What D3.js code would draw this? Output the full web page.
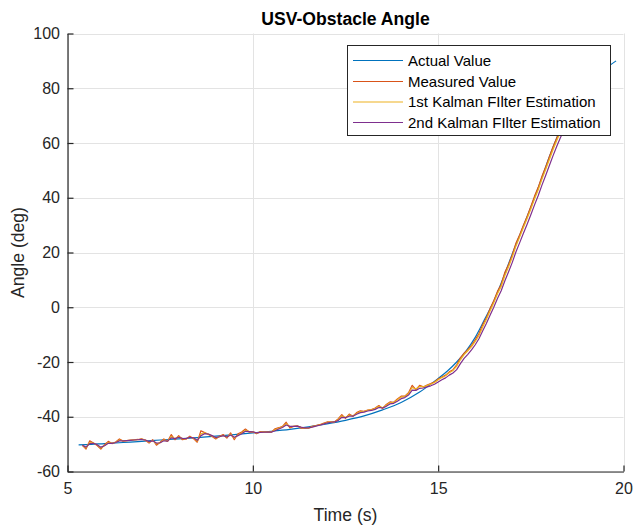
<!DOCTYPE html>
<html>
<head>
<meta charset="utf-8">
<script src="https://cdn.jsdelivr.net/npm/d3@7"></script>
<style>
  html, body { margin: 0; padding: 0; background: #fff; }
  svg { display: block; font-family: "Liberation Sans", Arial, Helvetica, sans-serif; }
</style>
</head>
<body>
<svg id="chart" width="635" height="529"></svg>
<script>
// Reference trajectory of the bearing angle (time, deg)
const actualTime = [5.3, 5.5, 6, 6.5, 7, 7.5, 8, 8.5, 9, 9.5, 10, 10.5, 11, 11.5, 12, 12.5, 13, 13.5, 14, 14.5,
  15, 15.25, 15.5, 15.75, 16, 16.25, 16.5, 16.75, 17, 17.25, 17.5, 17.75, 18, 18.25, 18.5, 18.75, 19, 19.25, 19.5, 19.8];
const actualValue = [-50.3, -50.2, -49.8, -49.4, -49.0, -48.5, -48.1, -47.6, -47.1, -46.5, -45.9, -45.3, -44.6, -43.7, -42.6, -41.3, -39.7, -37.5, -34.8, -31.0,
  -26.0, -23.3, -20.0, -16.0, -11.0, -4.5, 2.2, 10.5, 19.5, 28.0, 36.5, 45.5, 55.0, 63.5, 70.5, 76.0, 80.5, 84.0, 87.0, 90.0];

// Sensor samples every 0.1 s, from 5.4 s to 18.8 s
const sampleStart = 5.4;
const sampleStep = 0.1;
const measuredValue = [
  -50.4, -51.8, -48.8, -49.6, -50.5, -51.8, -50.2, -49.0, -49.8, -49.2,
  -48.1, -48.9, -48.7, -48.5, -48.4, -48.3, -48.1, -48.6, -49.6, -48.4,
  -50.4, -49.3, -48.1, -49.0, -46.5, -48.4, -46.9, -48.4, -48.1, -47.1,
  -48.0, -49.3, -45.1, -45.8, -46.5, -47.2, -48.1, -47.1, -46.5, -47.8,
  -45.9, -48.4, -46.2, -45.6, -44.5, -45.6, -45.5, -46.2, -45.4, -45.5,
  -45.6, -45.6, -44.4, -44.0, -43.5, -42.0, -44.1, -43.5, -43.3, -44.2,
  -44.3, -44.2, -43.5, -43.2, -42.9, -42.4, -41.9, -41.9, -41.9, -40.8,
  -39.2, -40.6, -39.0, -39.8, -38.5, -37.8, -38.0, -37.6, -37.4, -36.8,
  -35.9, -37.0, -35.5, -34.6, -34.7, -33.5, -32.5, -32.5, -31.2, -28.5,
  -30.1, -28.5, -29.1, -28.4, -27.9, -27.3, -26.2, -25.5, -24.8, -23.6,
  -22.8, -21.0, -18.5, -16.8, -15.5, -13.9, -11.9, -9.6, -6.4, -3.8,
  -0.5, 2.4, 5.8, 8.3, 12.8, 15.6, 19.2, 23.5, 26.5, 30.0,
  33.2, 36.8, 40.6, 43.8, 47.9, 51.2, 55.0, 58.6, 61.8, 65.0,
  67.5, 70.2, 72.4, 74.8, 76.6
];
const kalman1Value = [
  -50.4, -51.4, -49.4, -49.6, -50.3, -51.4, -50.5, -49.4, -49.7, -49.3,
  -48.5, -48.8, -48.7, -48.6, -48.5, -48.4, -48.2, -48.5, -49.3, -48.7,
  -49.9, -49.5, -48.5, -48.9, -47.2, -48.0, -47.3, -48.0, -48.1, -47.4,
  -47.8, -48.9, -46.2, -45.9, -46.3, -47.0, -47.8, -47.3, -46.8, -47.5,
  -46.4, -47.8, -46.7, -45.9, -44.9, -45.4, -45.5, -46.0, -45.6, -45.5,
  -45.6, -45.6, -44.8, -44.2, -43.7, -42.5, -43.6, -43.5, -43.4, -43.9,
  -44.2, -44.2, -43.7, -43.3, -43.0, -42.6, -42.1, -41.9, -41.9, -41.1,
  -39.7, -40.3, -39.4, -39.7, -38.8, -38.1, -38.0, -37.7, -37.5, -37.0,
  -36.2, -36.7, -35.8, -34.9, -34.8, -33.8, -32.8, -32.6, -31.5, -29.3,
  -29.9, -28.9, -29.1, -28.6, -28.1, -27.5, -26.5, -25.7, -25.0, -23.9,
  -23.1, -21.5, -19.2, -17.3, -15.9, -14.4, -12.5, -10.3, -7.3, -4.5,
  -1.4, 1.6, 4.9, 7.6, 11.6, 14.8, 18.3, 22.4, 25.7, 29.1,
  32.4, 35.9, 39.6, 42.9, 46.8, 50.3, 54.0, 57.6, 60.9, 64.1,
  66.8, 69.5, 71.8, 74.2, 76.1
];
const kalman2Value = [
  -50.4, -51.1, -49.8, -49.7, -50.2, -51.1, -50.6, -49.7, -49.7, -49.4,
  -48.8, -48.8, -48.7, -48.6, -48.5, -48.4, -48.3, -48.5, -49.1, -48.8,
  -49.6, -49.5, -48.8, -48.9, -47.7, -48.0, -47.5, -47.9, -48.0, -47.5,
  -47.7, -48.6, -46.9, -46.2, -46.3, -46.9, -47.6, -47.3, -46.9, -47.4,
  -46.7, -47.5, -46.9, -46.2, -45.3, -45.4, -45.5, -45.9, -45.7, -45.6,
  -45.6, -45.6, -45.1, -44.5, -43.9, -43.0, -43.5, -43.5, -43.4, -43.8,
  -44.1, -44.1, -43.8, -43.4, -43.1, -42.7, -42.3, -42.0, -41.9, -41.4,
  -40.2, -40.3, -39.8, -39.8, -39.1, -38.5, -38.3, -37.9, -37.7, -37.3,
  -36.6, -36.8, -36.2, -35.3, -35.1, -34.3, -33.4, -33.0, -32.1, -30.3,
  -30.4, -29.6, -29.5, -29.1, -28.7, -28.1, -27.3, -26.5, -25.8, -24.8,
  -24.0, -22.8, -20.6, -18.7, -17.2, -15.6, -13.7, -11.5, -8.7, -5.9,
  -2.9, 0.0, 3.2, 6.0, 9.7, 13.0, 16.4, 20.3, 23.6, 27.0,
  30.3, 33.8, 37.4, 40.8, 44.6, 48.1, 51.8, 55.4, 58.8, 62.0,
  64.8, 67.6, 70.0, 72.5, 74.5
];

const xTicks = [5, 10, 15, 20];
const yTicks = [-60, -40, -20, 0, 20, 40, 60, 80, 100];
const seriesNames = ["Actual Value", "Measured Value", "1st Kalman FIlter Estimation", "2nd Kalman FIlter Estimation"];
const seriesColors = ["#0072BD", "#D95319", "#EDB120", "#7E2F8E"];

const svg = d3.select("#chart");
const plot = { left: 67.5, right: 623.5, top: 33.5, bottom: 471.5 };
const axisColor = "#262626";

const x = d3.scaleLinear().domain([5, 20]).range([plot.left, plot.right]);
const y = d3.scaleLinear().domain([-60, 100]).range([plot.bottom, plot.top]);

// Grid
const grid = svg.append("g").attr("stroke", "#e3e3e3").attr("stroke-width", 1);
grid.selectAll("line.gx").data(xTicks).join("line")
  .attr("x1", d => Math.round(x(d)) + 0.5).attr("x2", d => Math.round(x(d)) + 0.5)
  .attr("y1", plot.top).attr("y2", plot.bottom);
grid.selectAll("line.gy").data(yTicks).join("line")
  .attr("x1", plot.left).attr("x2", plot.right)
  .attr("y1", d => Math.round(y(d)) + 0.5).attr("y2", d => Math.round(y(d)) + 0.5);

// Series
const sampleTime = measuredValue.map((_, i) => sampleStart + i * sampleStep);
const lineGen = d3.line().x(d => x(d[0])).y(d => y(d[1]));
const series = [
  d3.zip(actualTime, actualValue),
  d3.zip(sampleTime, measuredValue),
  d3.zip(sampleTime, kalman1Value),
  d3.zip(sampleTime, kalman2Value)
];
series.forEach((pts, i) => {
  svg.append("path")
    .attr("d", (i === 0 ? lineGen.curve(d3.curveMonotoneX) : lineGen.curve(d3.curveLinear))(pts))
    .attr("fill", "none")
    .attr("stroke", seriesColors[i])
    .attr("stroke-width", 1.2)
    .attr("stroke-linejoin", "round");
});

// Axes (ticks point inward, plain hyphen for negatives)
const plainNum = d => String(d);
const xAxis = d3.axisBottom(x).tickValues(xTicks).tickFormat(plainNum).tickSizeInner(-6).tickSizeOuter(0).tickPadding(11);
const yAxis = d3.axisLeft(y).tickValues(yTicks).tickFormat(plainNum).tickSizeInner(-6).tickSizeOuter(0).tickPadding(7.5);

const gx = svg.append("g").attr("transform", `translate(0,${plot.bottom})`).call(xAxis);
const gy = svg.append("g").attr("transform", `translate(${plot.left},0)`).call(yAxis);
[gx, gy].forEach(g => {
  g.select(".domain").attr("stroke", axisColor).attr("stroke-width", 1.2);
  g.selectAll(".tick line").attr("stroke", axisColor).attr("stroke-width", 1.2);
  g.selectAll(".tick text").attr("fill", axisColor)
    .style("font-size", "16px").style("font-family", "'Liberation Sans', Arial, sans-serif");
});

// Title and axis labels
svg.append("text").attr("x", (plot.left + plot.right) / 2).attr("y", 25)
  .attr("text-anchor", "middle").attr("fill", "#000")
  .style("font-size", "17.6px").style("font-weight", "bold")
  .text("USV-Obstacle Angle");
svg.append("text").attr("x", (plot.left + plot.right) / 2).attr("y", 521)
  .attr("text-anchor", "middle").attr("fill", axisColor)
  .style("font-size", "17.6px")
  .text("Time (s)");
svg.append("text")
  .attr("transform", `translate(24,${(plot.top + plot.bottom) / 2}) rotate(-90)`)
  .attr("text-anchor", "middle").attr("fill", axisColor)
  .style("font-size", "17.6px")
  .text("Angle (deg)");

// Legend
const legend = svg.append("g");
legend.append("rect")
  .attr("x", 347.5).attr("y", 45.5).attr("width", 263).attr("height", 90)
  .attr("fill", "#fff").attr("stroke", axisColor).attr("stroke-width", 1);
const rowY = [60, 81, 101.5, 122];
seriesNames.forEach((name, i) => {
  legend.append("line")
    .attr("x1", 353).attr("x2", 403).attr("y1", rowY[i] + 0.5).attr("y2", rowY[i] + 0.5)
    .attr("stroke", seriesColors[i]).attr("stroke-width", 1.2);
  legend.append("text")
    .attr("x", 408).attr("y", rowY[i] + 5.5)
    .attr("fill", "#000").style("font-size", "15px")
    .text(name);
});
</script>
</body>
</html>
